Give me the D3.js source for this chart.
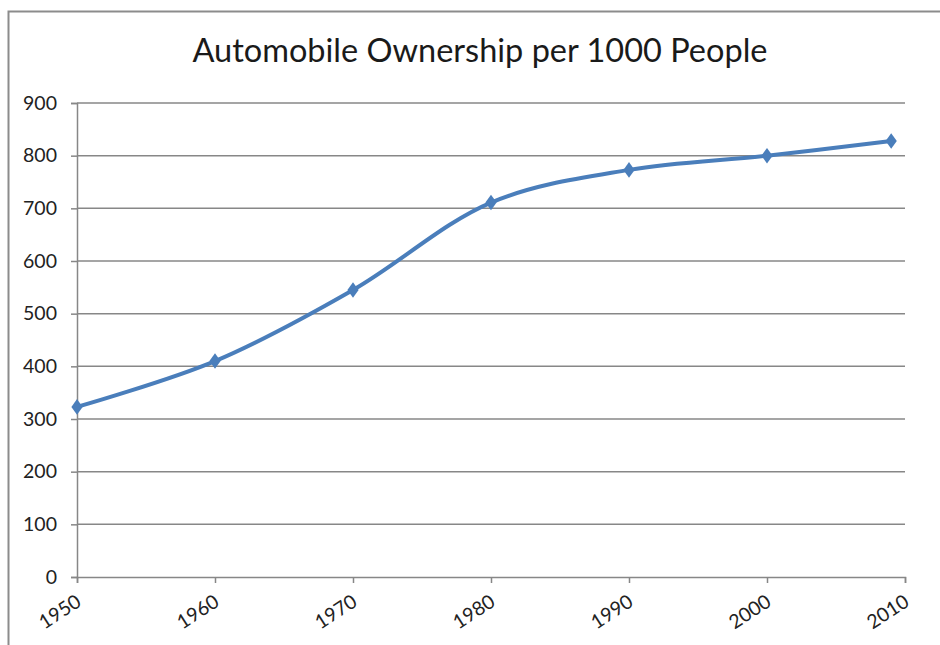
<!DOCTYPE html>
<html><head><meta charset="utf-8">
<script src="https://cdn.jsdelivr.net/npm/d3@7"></script>
<style>html,body{margin:0;padding:0;background:#fff;}svg{display:block;}</style>
</head><body>
<svg id="chart" width="940" height="645"></svg>
<script>
const title = "Automobile Ownership per 1000 People";
const years = [1950, 1960, 1970, 1980, 1990, 2000, 2009];
const values = [323, 410, 545, 711, 773, 800, 828];
const xTicks = [1950, 1960, 1970, 1980, 1990, 2000, 2010];
const yTicks = [0, 100, 200, 300, 400, 500, 600, 700, 800, 900];

const svg = d3.select("#chart");
const font = "Lato, 'Open Sans', sans-serif";

// chart border
svg.append("rect").attr("x", 8.5).attr("y", 11.5).attr("width", 960).attr("height", 700)
  .attr("fill", "none").attr("stroke", "#8c8c8c").attr("stroke-width", 2);

const x = d3.scaleLinear().domain([1950, 2010]).range([77, 905]);
const y = d3.scaleLinear().domain([0, 900]).range([577, 103]);

// gridlines
svg.append("g").selectAll("line").data(yTicks.filter(d => d > 0)).join("line")
  .attr("x1", x(1950)).attr("x2", x(2010))
  .attr("y1", d => y(d)).attr("y2", d => y(d))
  .attr("stroke", "#878787").attr("stroke-width", 1.5);

// y axis
const yAxis = svg.append("g").attr("transform", `translate(${x(1950)},0)`)
  .call(d3.axisLeft(y).tickValues(yTicks).tickSize(6).tickPadding(14).tickFormat(d3.format("d")));
yAxis.select(".domain").attr("stroke", "#878787").attr("stroke-width", 1.5);
yAxis.selectAll(".tick line").attr("stroke", "#878787").attr("stroke-width", 1.5);
yAxis.selectAll("text").attr("font-family", font).attr("font-size", 19.5).attr("fill", "#222");

// x axis
const xAxis = svg.append("g").attr("transform", `translate(0,${y(0)})`)
  .call(d3.axisBottom(x).tickValues(xTicks).tickSize(6).tickFormat(d3.format("d")));
xAxis.select(".domain").attr("stroke", "#878787").attr("stroke-width", 1.5);
xAxis.selectAll(".tick line").attr("stroke", "#878787").attr("stroke-width", 1.5);
xAxis.selectAll("text").attr("font-family", font).attr("font-size", 19.5).attr("fill", "#222")
  .attr("text-anchor", "end").attr("dy", null).attr("y", 0)
  .attr("transform", "translate(5,28) rotate(-33)");

// line
const line = d3.line().x((d, i) => x(years[i])).y(d => y(d)).curve(d3.curveCatmullRom.alpha(0.5));
svg.append("path").datum(values).attr("d", line)
  .attr("fill", "none").attr("stroke", "#4a7ebb").attr("stroke-width", 4).attr("stroke-linecap", "round");

// markers
svg.append("g").selectAll("path").data(values).join("path")
  .attr("d", d3.symbol(d3.symbolDiamond, 70))
  .attr("transform", (d, i) => `translate(${x(years[i])},${y(d)}) scale(1.25,1)`)
  .attr("fill", "#4a7ebb");

// title
svg.append("text").attr("x", 480).attr("y", 62).attr("text-anchor", "middle")
  .attr("font-family", font).attr("font-size", 32.5).attr("fill", "#1a1a1a").text(title);
</script>
</body></html>
